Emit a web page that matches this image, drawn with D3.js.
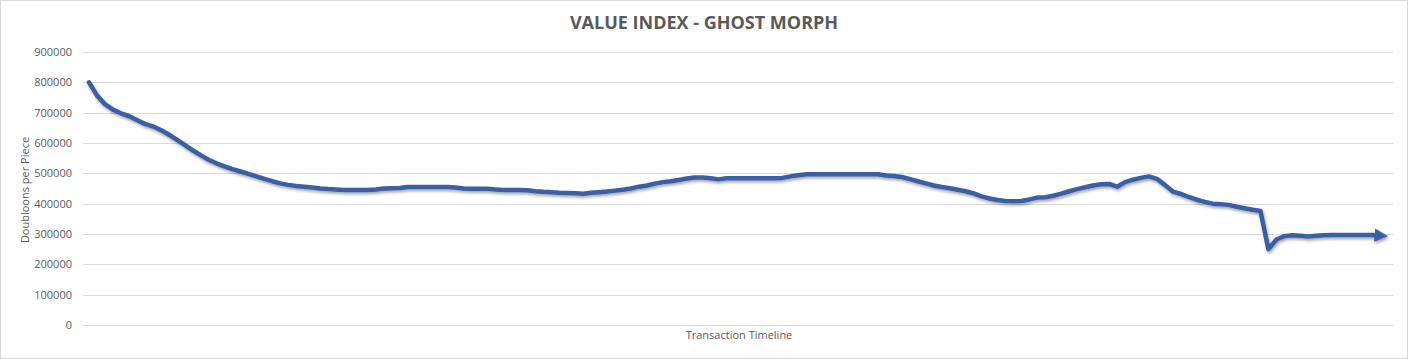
<!DOCTYPE html>
<html>
<head>
<meta charset="utf-8">
<script src="https://cdn.jsdelivr.net/npm/d3@7"></script>
<style>
  html, body { margin: 0; padding: 0; background: #fff; }
  svg { display: block; }
  text { font-family: "Open Sans", "Noto Sans", sans-serif; fill: #595959; }
</style>
</head>
<body>
<svg id="chart" width="1408" height="359"></svg>
<script>
// ---- data ----
const chartTitle = "VALUE INDEX - GHOST MORPH";
const xAxisTitle = "Transaction Timeline";
const yAxisTitle = "Doubloons per Piece";
const yTicks = [0, 100000, 200000, 300000, 400000, 500000, 600000, 700000, 800000, 900000];
const values = [
  800000, 757000, 728000, 710000, 698000, 689000, 676000, 663000, 655000, 643000,
  628000, 611000, 594000, 576000, 560000, 545000, 533000, 523000, 514000, 506000,
  498000, 490000, 482000, 474000, 467000, 462000, 458000, 456000, 453000, 450000,
  448000, 447000, 445000, 445000, 445000, 445000, 447000, 450000, 451000, 452000,
  455000, 455000, 455000, 455000, 455000, 455000, 453000, 450000, 449000, 449000,
  449000, 447000, 445000, 445000, 445000, 444000, 441000, 439000, 438000, 436000,
  435000, 434000, 433000, 436000, 438000, 440000, 443000, 446000, 450000, 456000,
  460000, 466000, 471000, 474000, 478000, 483000, 486000, 486000, 484000, 480000,
  484000, 484000, 484000, 484000, 484000, 484000, 484000, 485000, 490000, 494000,
  497000, 497000, 497000, 497000, 497000, 497000, 497000, 497000, 497000, 497000,
  493000, 491000, 488000, 481000, 474000, 467000, 460000, 455000, 451000, 446000,
  441000, 434000, 424000, 417000, 412000, 409000, 408000, 409000, 414000, 420000,
  421000, 426000, 433000, 441000, 448000, 454000, 460000, 464000, 465000, 456000,
  471000, 479000, 485000, 490000, 482000, 462000, 440000, 432000, 422000, 413000,
  406000, 400000, 398000, 396000, 390000, 385000, 380000, 376000, 250000, 282000,
  293000, 296000, 294000, 292000, 294000, 296000, 297000, 297000, 297000, 297000,
  297000, 297000, 295000
];
const categories = values.map((d, i) => i + 1);

// ---- layout ----
const svg = d3.select("#chart");
const W = 1408, H = 359;
const plot = { left: 83, right: 1393, top: 52, bottom: 325 };
const lineColor = "#3b5ea3";

svg.append("rect")
  .attr("x", 0.5).attr("y", 0.5)
  .attr("width", W - 1).attr("height", H - 1)
  .attr("fill", "#fff").attr("stroke", "#d9d9d9");

const defs = svg.append("defs");
const f = defs.append("filter").attr("id", "shadow")
  .attr("x", "-5%").attr("y", "-20%").attr("width", "110%").attr("height", "140%");
f.append("feDropShadow").attr("dx", 1).attr("dy", 2)
  .attr("stdDeviation", 1.4).attr("flood-color", "#000").attr("flood-opacity", 0.35);

defs.append("marker").attr("id", "arrow")
  .attr("viewBox", "0 0 10 10").attr("refX", 4).attr("refY", 5)
  .attr("markerWidth", 3).attr("markerHeight", 3)
  .attr("orient", "auto")
  .append("path").attr("d", "M0,0 L10,5 L0,10 Z").attr("fill", lineColor);

const x = d3.scalePoint().domain(categories).range([89, 1380]);
const y = d3.scaleLinear().domain([0, 900000]).range([plot.bottom, plot.top]);

// gridlines
svg.append("g").selectAll("line").data(yTicks).join("line")
  .attr("x1", plot.left).attr("x2", plot.right)
  .attr("y1", d => Math.round(y(d)) + 0.5).attr("y2", d => Math.round(y(d)) + 0.5)
  .attr("stroke", "#d9d9d9").attr("stroke-width", 1);

// y axis labels
const yAxis = d3.axisLeft(y).tickValues(yTicks).tickSize(0).tickPadding(0).tickFormat(d3.format("d"));
const gy = svg.append("g").attr("transform", "translate(72,0)").call(yAxis);
gy.select(".domain").remove();
gy.selectAll("text").attr("font-size", 11).attr("fill", "#595959")
  .attr("font-family", "'Open Sans', sans-serif");

// line
const line = d3.line().x((d, i) => x(categories[i])).y(d => y(d));
svg.append("path").datum(values)
  .attr("d", line)
  .attr("fill", "none")
  .attr("stroke", lineColor)
  .attr("stroke-width", 4.5)
  .attr("stroke-linejoin", "round")
  .attr("stroke-linecap", "round")
  .attr("marker-end", "url(#arrow)")
  .attr("filter", "url(#shadow)");

// titles
svg.append("text").attr("x", 704).attr("y", 29)
  .attr("text-anchor", "middle").attr("font-size", 18).attr("font-weight", 700)
  .text(chartTitle);

svg.append("text").attr("x", 739).attr("y", 339)
  .attr("text-anchor", "middle").attr("font-size", 11)
  .text(xAxisTitle);

svg.append("text")
  .attr("transform", "translate(29,190) rotate(-90)")
  .attr("text-anchor", "middle").attr("font-size", 11)
  .text(yAxisTitle);
</script>
</body>
</html>
